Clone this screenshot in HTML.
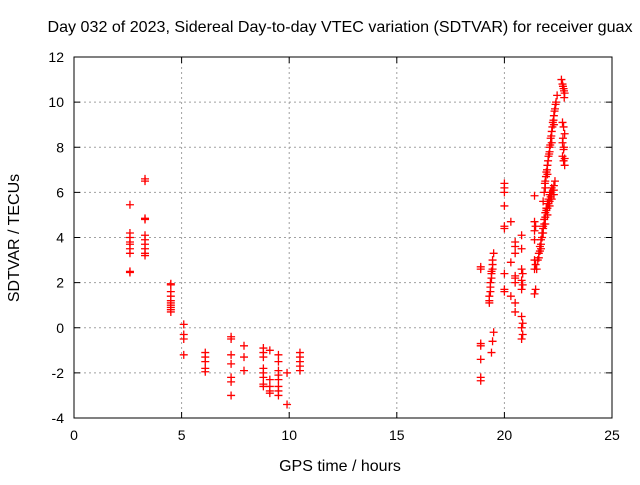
<!DOCTYPE html>
<html><head><meta charset="utf-8"><style>
body{margin:0;background:#fff;font-family:"Liberation Sans",sans-serif}
svg text{font-family:"Liberation Sans",sans-serif;font-size:14px;fill:#000}
svg text.big{font-size:16px}
</style></head><body>
<svg id="chart" width="640" height="480" xmlns="http://www.w3.org/2000/svg">
<rect width="640" height="480" fill="#fff"/>
<text class="big" x="340" y="32" text-anchor="middle" textLength="585" lengthAdjust="spacingAndGlyphs">Day 032 of 2023, Sidereal Day-to-day VTEC variation (SDTVAR) for receiver guax</text>
<text class="big" x="340" y="471" text-anchor="middle">GPS time / hours</text>
<text class="big" x="19" y="238" text-anchor="middle" transform="rotate(-90 19 238)">SDTVAR / TECUs</text>
<g id="grid"></g><g id="axes"></g><g id="marks"></g>
</svg>
<script>
const xTicks=[0,5,10,15,20,25];
const yTicks=[-4,-2,0,2,4,6,8,10,12];
const hours=[2.6,2.6,2.6,2.6,2.6,2.6,2.6,2.6,2.6,
3.3,3.3,3.3,3.3,3.3,3.3,3.3,3.3,3.3,3.3,
4.5,4.5,4.5,4.5,4.5,4.5,4.5,4.5,4.5,4.5,
5.1,5.1,5.1,5.1,
6.1,6.1,6.1,6.1,6.1,
7.3,7.3,7.3,7.3,7.3,7.3,7.3,
7.9,7.9,7.9,
8.8,8.8,8.8,8.8,8.8,8.8,8.8,8.8,
9.1,9.1,9.1,9.1,9.1,
9.5,9.5,9.5,9.5,9.5,9.5,9.5,9.5,
9.9,9.9,
10.5,10.5,10.5,10.5,10.5,
18.9,18.9,18.9,18.9,18.9,18.9,18.9,
19.3,19.35,19.4,19.45,19.5,19.3,19.35,19.4,19.45,19.4,19.45,19.5,19.3,19.4,19.45,19.35,
20.0,20.0,20.0,20.0,20.0,20.0,20.0,20.0,20.0,
20.3,20.3,20.3,
20.5,20.5,20.5,20.5,20.5,20.5,20.5,20.5,
20.8,20.8,20.8,20.8,20.8,20.8,20.8,20.8,20.85,20.85,20.85,20.85,
21.4,21.4,21.4,21.4,21.4,21.4,21.4,21.45,21.45,21.45,
21.5,21.55,21.6,21.65,21.7,21.75,21.8,21.85,21.9,21.95,22.0,22.05,22.1,22.15,22.2,22.3,22.35,21.6,21.7,21.8,21.9,22.0,22.1,22.2,22.3,
21.65,21.75,21.85,21.95,22.05,22.15,22.25,21.7,21.8,21.9,22.0,22.1,22.2,22.3,
21.8,21.85,21.9,21.95,22.0,22.05,22.1,22.15,22.2,22.25,22.3,22.35,22.4,21.9,22.0,22.1,22.2,22.3,22.45,
21.88,21.98,22.08,22.18,22.28,22.38,21.93,22.03,22.13,22.23,22.33,
22.65,22.7,22.75,22.8,22.78,22.7,22.75,22.8,22.7,22.75,22.7,22.75,22.8,22.72,22.77,22.72,22.77,22.8];
const values=[5.45,4.2,4.0,3.8,3.7,3.5,3.3,2.5,2.45,
6.6,6.5,4.85,4.8,4.1,3.9,3.7,3.5,3.3,3.2,
1.95,1.9,1.6,1.4,1.2,1.1,1.0,0.9,0.8,0.7,
0.15,-0.3,-0.5,-1.2,
-1.1,-1.3,-1.5,-1.8,-1.95,
-0.4,-0.5,-1.2,-1.6,-2.2,-2.4,-3.0,
-0.8,-1.3,-1.9,
-0.9,-1.1,-1.3,-1.8,-2.0,-2.2,-2.5,-2.6,
-1.0,-2.3,-2.6,-2.8,-2.9,
-1.2,-1.5,-1.9,-2.1,-2.3,-2.6,-2.8,-3.0,
-2.0,-3.4,
-1.1,-1.3,-1.5,-1.7,-1.9,
2.7,2.6,-0.7,-0.8,-1.4,-2.2,-2.35,
1.1,1.6,2.2,2.8,3.3,1.2,2.0,2.5,3.0,-1.1,-0.6,-0.2,1.4,2.4,2.6,1.8,
6.4,6.0,5.4,4.4,2.4,1.7,1.6,4.5,6.2,
4.7,2.9,1.4,
3.8,3.3,2.3,2.0,1.1,0.7,3.6,2.2,
4.1,3.5,2.6,2.1,1.7,0.5,0.0,-0.5,-0.3,0.2,1.9,2.4,
5.85,4.7,4.3,3.9,3.0,2.6,1.5,1.7,2.8,4.5,
2.6,3.0,3.3,3.6,3.9,4.2,4.5,4.8,5.1,5.3,5.5,5.7,5.9,6.0,6.2,6.3,6.5,3.1,3.5,4.2,4.6,5.0,5.4,5.7,5.9,
3.4,4.0,4.6,5.2,5.5,5.8,6.1,3.7,4.4,4.9,5.3,5.6,5.9,6.1,
5.6,6.0,6.5,6.9,7.2,7.6,8.0,8.4,8.7,9.1,9.4,9.7,10.0,6.2,6.8,7.8,8.2,9.0,10.3,
6.4,7.0,7.7,8.5,9.2,9.9,6.7,7.4,8.1,8.9,9.6,
11.0,10.8,10.6,10.4,10.2,9.1,8.9,8.6,8.2,7.9,7.6,7.4,7.2,10.7,10.5,8.4,8.0,7.5];
const L=74,R=612,T=57,B=418;
const xs=v=>L+(v-0)/25*(R-L);
const ys=v=>B-(v+4)/16*(B-T);
const NS="http://www.w3.org/2000/svg";
function mk(tag,attrs,parent){const e=document.createElementNS(NS,tag);for(const k in attrs)e.setAttribute(k,attrs[k]);parent.appendChild(e);return e;}
const grid=document.getElementById('grid'),axes=document.getElementById('axes'),marks=document.getElementById('marks');
xTicks.forEach(t=>{const x=xs(t);
 if(t>0&&t<25){const g=mk('line',{x1:x,x2:x,y1:T,y2:B,stroke:'#a0a0a0','stroke-dasharray':'2,3'},grid);
 
 }
 mk('line',{x1:x,x2:x,y1:B,y2:B-6,stroke:'#000'},axes);mk('line',{x1:x,x2:x,y1:T,y2:T+6,stroke:'#000'},axes);
 const tx=mk('text',{x:x,y:B+22,'text-anchor':'middle'},axes);tx.textContent=t;
 
 });
yTicks.forEach(t=>{const y=ys(t);
 if(t>-4&&t<12){const g=mk('line',{x1:L,x2:R,y1:y,y2:y,stroke:'#a0a0a0','stroke-dasharray':'2,3'},grid);
 
 }
 mk('line',{x1:L,x2:L+6,y1:y,y2:y,stroke:'#000'},axes);mk('line',{x1:R,x2:R-6,y1:y,y2:y,stroke:'#000'},axes);
 const tx=mk('text',{x:L-10,y:y+5,'text-anchor':'end'},axes);tx.textContent=t;
 
 });
const fr=mk('rect',{x:L,y:T,width:R-L,height:B-T,fill:'none',stroke:'#000'},axes);


hours.forEach((h,i)=>{const x=xs(h),y=ys(values[i]);
 const p=mk('path',{d:`M${x-4},${y}H${x+4}M${x},${y-4}V${y+4}`,stroke:'#ff0000','stroke-width':1.3,fill:'none'},marks);
 
 });
</script>
</body></html>
